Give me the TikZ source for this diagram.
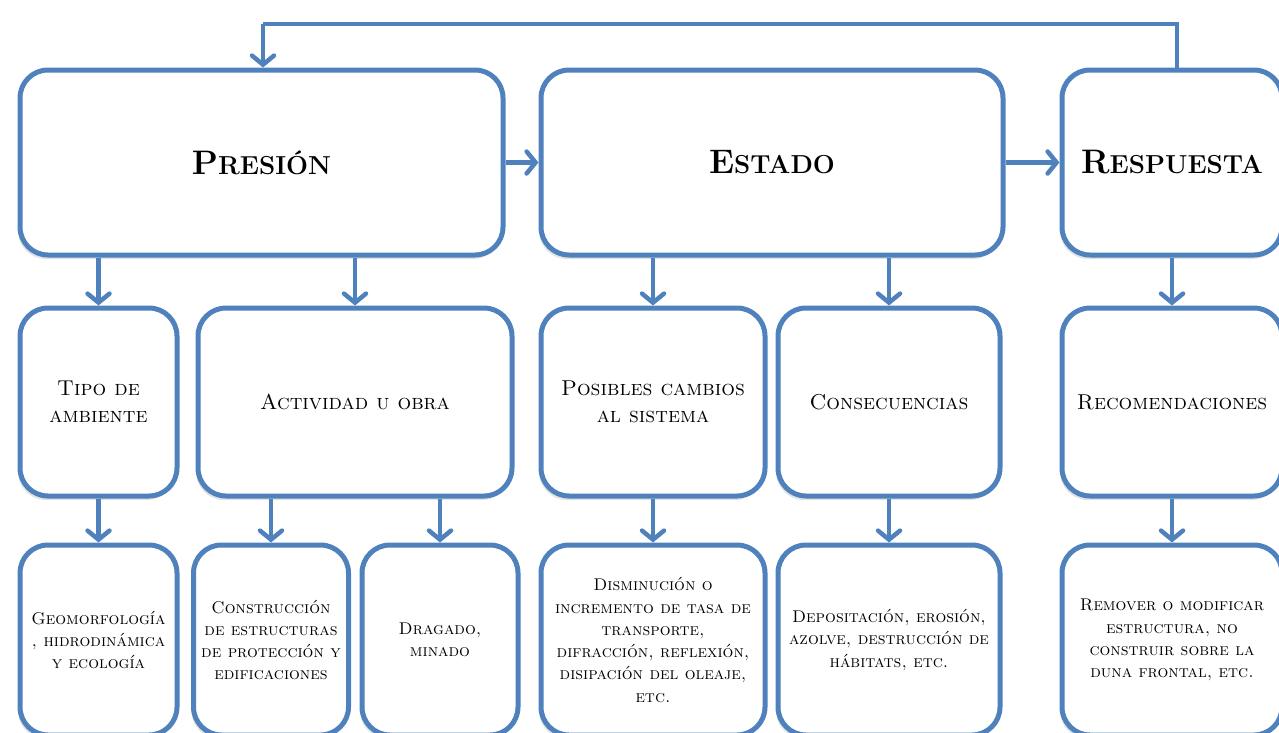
\documentclass[tikz,border=0pt]{standalone}
\usepackage{fontspec}
\usetikzlibrary{arrows.meta,shadows}
\definecolor{bl}{RGB}{79,129,189}
\newcommand\tsc[2]{{\fontsize{34}{34}\selectfont\bfseries #1}{\fontsize{26}{26}\selectfont\bfseries #2}}
\tikzset{
  box/.style={draw=bl, line width=5pt, rounded corners=28pt, fill=white, align=center, inner sep=0pt,
    drop shadow={shadow xshift=-2pt, shadow yshift=-4pt, opacity=0.22}},
  toptxt/.style={font=\fontsize{34}{34}\selectfont},
  midtxt/.style={font=\fontsize{21.5}{27}\selectfont\scshape},
  bottxt/.style={font=\fontsize{17}{22.3}\selectfont\scshape},
  arr/.style={draw=bl, line width=4.5pt, -{Straight Barb[length=9pt,width=22pt,line cap=round]}},
  link/.style={draw=bl, line width=4.5pt}
}
\begin{document}
\begin{tikzpicture}[x=1pt,y=-1pt]
\useasboundingbox (0,0) rectangle (1279,732);
% top row
\node[box,toptxt,minimum width=483pt,minimum height=185pt] (pres) at (261.5,162.5) {\tsc{P}{RESIÓN}};
\node[box,toptxt,minimum width=462pt,minimum height=185pt] (est) at (772,162.5) {\tsc{E}{STADO}};
\node[box,toptxt,minimum width=220pt,minimum height=185pt] (resp) at (1172,162.5) {\tsc{R}{ESPUESTA}};
% middle row
\node[box,midtxt,minimum width=157pt,minimum height=188pt] (tipo) at (98.5,402) {Tipo de\\ambiente};
\node[box,midtxt,minimum width=314pt,minimum height=188pt] (act) at (355,402) {Actividad u obra};
\node[box,midtxt,minimum width=224pt,minimum height=188pt] (pos) at (653,402) {Posibles cambios\\al sistema};
\node[box,midtxt,minimum width=222pt,minimum height=188pt] (cons) at (889,402) {Consecuencias};
\node[box,midtxt,minimum width=220pt,minimum height=188pt] (rec) at (1172,402) {Recomendaciones};
% bottom row
\node[box,bottxt,minimum width=157pt,minimum height=190pt] (geo) at (98.5,640) {Geomorfología\\, hidrodinámica\\y ecología};
\node[box,bottxt,minimum width=155pt,minimum height=190pt] (constr) at (271,640) {Construcción\\de estructuras\\de protección y\\edificaciones};
\node[box,bottxt,minimum width=156pt,minimum height=190pt] (drag) at (440,640) {Dragado,\\minado};
\node[box,bottxt,minimum width=224pt,minimum height=190pt] (dism) at (653,640) {Disminución o\\incremento de tasa de\\transporte,\\difracción, reflexión,\\disipación del oleaje,\\etc.};
\node[box,bottxt,minimum width=222pt,minimum height=190pt] (depo) at (889,640) {Depositación, erosión,\\azolve, destrucción de\\hábitats, etc.};
\node[box,bottxt,minimum width=220pt,minimum height=190pt] (rem) at (1172,640) {Remover o modificar\\estructura, no\\construir sobre la\\duna frontal, etc.};
% horizontal arrows
\draw[arr] (pres.east) -- (est.west);
\draw[arr] (est.east) -- (resp.west);
% feedback
\coordinate (fbR) at (1177,24);
\coordinate (fbL) at (263,24);
\draw[link] (resp.north -| fbR) -- (fbR) -- (fbL);
\draw[arr] (fbL) -- (pres.north -| fbL);
% down arrows
\draw[arr] (pres.south -| tipo.north) -- (tipo.north);
\draw[arr] (pres.south -| act.north) -- (act.north);
\draw[arr] (est.south -| pos.north) -- (pos.north);
\draw[arr] (est.south -| cons.north) -- (cons.north);
\draw[arr] (resp.south -| rem.north) -- (rec.north);
\draw[arr] (tipo.south) -- (geo.north);
\draw[arr] (act.south -| constr.north) -- (constr.north);
\draw[arr] (act.south -| drag.north) -- (drag.north);
\draw[arr] (pos.south) -- (dism.north);
\draw[arr] (cons.south) -- (depo.north);
\draw[arr] (rec.south) -- (rem.north);
\end{tikzpicture}
\end{document}
